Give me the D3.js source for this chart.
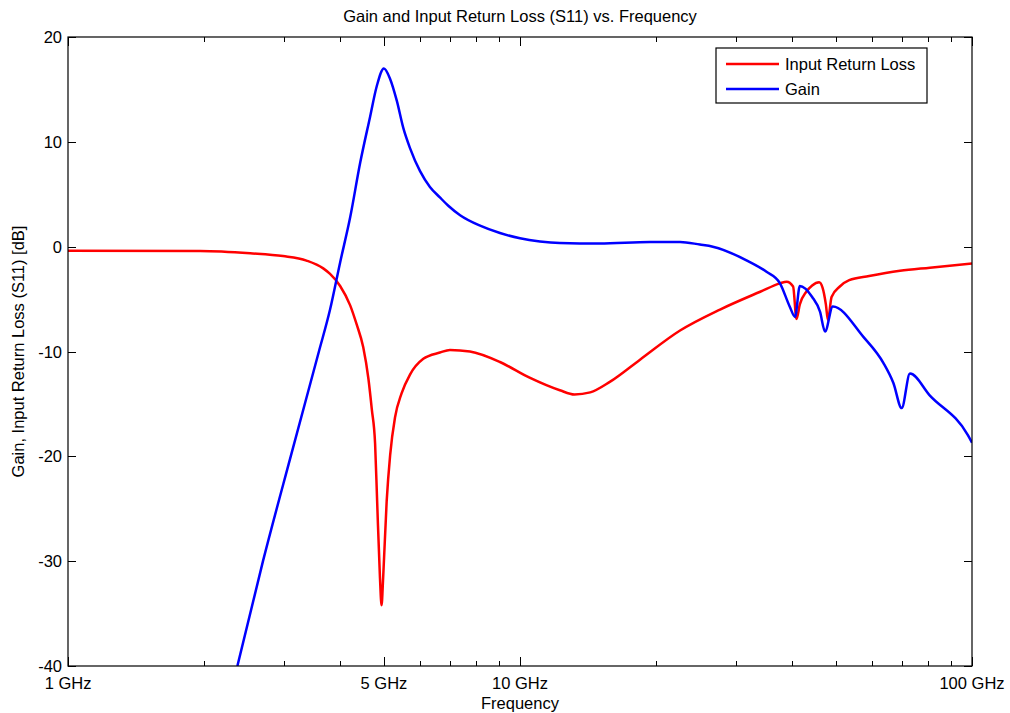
<!DOCTYPE html>
<html>
<head>
<meta charset="utf-8">
<script src="https://cdn.jsdelivr.net/npm/d3@7"></script>
<style>
  body { margin: 0; background: #fff; }
  svg text { font-family: "Liberation Sans", Arial, sans-serif; fill: #000; }
</style>
</head>
<body>
<svg id="chart" width="1010" height="713"></svg>
<script>
// --- data (frequency in GHz, values in dB) ---
const s11Freq = [1.00, 1.96, 2.53, 2.99, 3.37, 3.67, 3.80, 4.00, 4.21, 4.35, 4.50, 4.62, 4.70, 4.78, 4.83, 4.90, 4.94, 4.98, 5.07, 5.16, 5.29, 5.47, 5.71, 6.11, 6.65, 7.0, 7.75, 9.03, 10.5, 12.25, 13.2, 14.3, 15.8, 18.4, 22.6, 27.7, 34.0, 37.6, 38.9, 40.2, 40.9, 41.6, 43.0, 44.3, 45.9, 46.7, 47.5, 48.0, 48.9, 51.0, 53.5, 59.2, 69.3, 80.7, 100];
const s11Db   = [-0.4, -0.41, -0.63, -0.9, -1.33, -2.07, -2.6, -3.75, -5.6, -7.4, -9.6, -12.6, -15.5, -18.8, -24.3, -31.6, -34.2, -31.6, -24.3, -19.9, -16.3, -14, -12.2, -10.7, -10.1, -9.85, -10, -11, -12.5, -13.7, -14.1, -13.9, -12.9, -10.8, -8, -6, -4.3, -3.5, -3.34, -3.8, -6.9, -5.5, -4.3, -3.7, -3.4, -3.9, -5.5, -7, -4.8, -3.8, -3.2, -2.8, -2.3, -2.0, -1.6];

const gainFreq = [2.37, 2.70, 3.11, 3.59, 3.80, 4.00, 4.21, 4.43, 4.66, 4.82, 5.0, 5.16, 5.34, 5.52, 5.71, 6.01, 6.32, 6.65, 6.94, 7.37, 8.16, 9.03, 10, 11.07, 12.25, 15.0, 19.4, 22.6, 25.0, 26.7, 31.7, 35.1, 37.6, 39.5, 40.6, 41.6, 44.3, 46.1, 47.3, 49.2, 57.5, 63.7, 67.0, 69.9, 72.9, 80.7, 98.0, 100];
const gainDb   = [-40, -30, -20, -10, -6, -1.5, 2.8, 8, 12.4, 15.3, 17, 16, 13.9, 11.3, 9.4, 7.2, 5.7, 4.7, 3.9, 3.0, 2.0, 1.3, 0.8, 0.5, 0.35, 0.3, 0.45, 0.45, 0.2, 0, -1.3, -2.4, -3.5, -5.7, -6.7, -3.75, -4.8, -6.2, -8.1, -5.7, -8.6, -11.1, -13, -15.4, -12.1, -14.2, -18, -18.7];

const xTickVals   = [1, 5, 10, 100];
const xTickLabels = ["1 GHz", "5 GHz", "10 GHz", "100 GHz"];
const yTickVals   = [-40, -30, -20, -10, 0, 10, 20];
const seriesNames = ["Input Return Loss", "Gain"];
const seriesColors = ["#ff0000", "#0000ff"];

// --- layout ---
const margin = { left: 68, right: 38, top: 37, bottom: 47 };
const W = 1010, H = 713;
const pw = W - margin.left - margin.right, ph = H - margin.top - margin.bottom;
const fs = "16.5px";

const svg = d3.select("#chart");
const g = svg.append("g").attr("transform", `translate(${margin.left},${margin.top})`);

const x = d3.scaleLog().domain([1, 100]).range([0, pw]);
const y = d3.scaleLinear().domain([-40, 20]).range([ph, 0]);

// minor ticks for the log axis
const minorTicks = [];
[1, 10].forEach(dec => { for (let k = 2; k <= 9; k++) if (dec * k !== 5) minorTicks.push(dec * k); });

g.append("clipPath").attr("id", "clip").append("rect").attr("width", pw).attr("height", ph);

// ticks drawn inward on all four sides
const tickG = g.append("g").attr("stroke", "#000").attr("stroke-width", 1);
xTickVals.forEach(v => {
  const px = Math.round(x(v)) + 0.5;
  tickG.append("line").attr("x1", px).attr("x2", px).attr("y1", ph).attr("y2", ph - 9);
  tickG.append("line").attr("x1", px).attr("x2", px).attr("y1", 0).attr("y2", 9);
});
minorTicks.forEach(v => {
  const px = Math.round(x(v)) + 0.5;
  tickG.append("line").attr("x1", px).attr("x2", px).attr("y1", ph).attr("y2", ph - 5);
  tickG.append("line").attr("x1", px).attr("x2", px).attr("y1", 0).attr("y2", 5);
});
yTickVals.forEach(v => {
  const py = Math.round(y(v)) + 0.5;
  tickG.append("line").attr("x1", 0).attr("x2", 8).attr("y1", py).attr("y2", py);
  tickG.append("line").attr("x1", pw).attr("x2", pw - 8).attr("y1", py).attr("y2", py);
});

// tick labels
g.selectAll("text.xt").data(xTickVals).enter().append("text")
  .attr("class", "xt").attr("x", d => x(d)).attr("y", ph + 23)
  .attr("text-anchor", "middle").style("font-size", fs)
  .text((d, i) => xTickLabels[i]);
g.selectAll("text.yt").data(yTickVals).enter().append("text")
  .attr("class", "yt").attr("x", -6).attr("y", d => y(d) + 6)
  .attr("text-anchor", "end").style("font-size", fs)
  .text(d => d);

// curves
const line = d3.line().x(d => x(d[0])).y(d => y(d[1])).curve(d3.curveMonotoneX);
const plots = g.append("g").attr("clip-path", "url(#clip)");
plots.append("path").datum(d3.zip(s11Freq, s11Db))
  .attr("d", line).attr("fill", "none").attr("stroke", seriesColors[0]).attr("stroke-width", 2.5);
plots.append("path").datum(d3.zip(gainFreq, gainDb))
  .attr("d", line).attr("fill", "none").attr("stroke", seriesColors[1]).attr("stroke-width", 2.5);

// plot frame
g.append("rect").attr("width", pw).attr("height", ph)
  .attr("fill", "none").attr("stroke", "#000").attr("stroke-width", 1.2);

// titles
svg.append("text").attr("x", margin.left + pw / 2).attr("y", 22)
  .attr("text-anchor", "middle").style("font-size", fs)
  .text("Gain and Input Return Loss (S11) vs. Frequency");
svg.append("text").attr("x", margin.left + pw / 2).attr("y", 709)
  .attr("text-anchor", "middle").style("font-size", fs).text("Frequency");
svg.append("text").attr("transform", `translate(24,${margin.top + ph / 2}) rotate(-90)`)
  .attr("text-anchor", "middle").style("font-size", fs)
  .text("Gain, Input Return Loss (S11) [dB]");

// legend
const lg = svg.append("g").attr("transform", "translate(716,48)");
lg.append("rect").attr("width", 211).attr("height", 55)
  .attr("fill", "#fff").attr("stroke", "#000").attr("stroke-width", 1.2);
seriesNames.forEach((name, i) => {
  const ly = 16 + i * 25;
  lg.append("line").attr("x1", 10).attr("x2", 63).attr("y1", ly).attr("y2", ly)
    .attr("stroke", seriesColors[i]).attr("stroke-width", 2.5);
  lg.append("text").attr("x", 69).attr("y", ly + 6).style("font-size", fs).text(name);
});
</script>
</body>
</html>
